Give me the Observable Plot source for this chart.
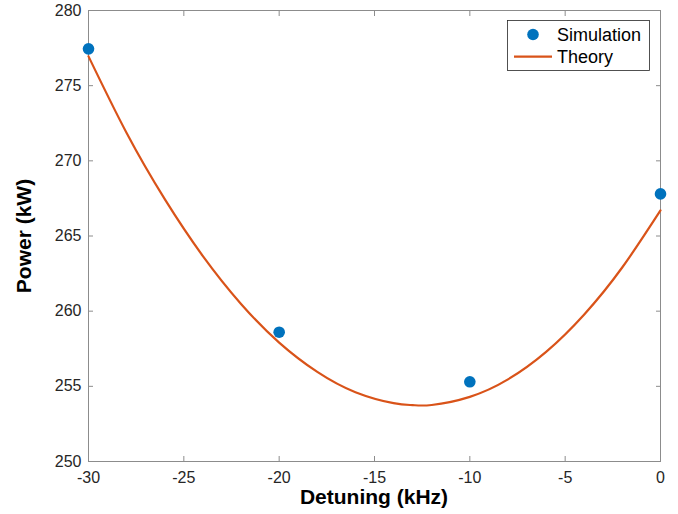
<!DOCTYPE html>
<html>
<head>
<meta charset="utf-8">
<script src="https://cdn.jsdelivr.net/npm/d3@7"></script>
<script src="https://cdn.jsdelivr.net/npm/@observablehq/plot@0.6"></script>
<style>
  body { margin: 0; background: #fff; }
  #chart svg { display: block; }
</style>
</head>
<body>
<div id="chart"></div>
<script>
// Simulation points
const simDetuning = [-30, -20, -10, 0];
const simPower = [277.45, 258.6, 255.3, 267.8];

// Theory curve
const theoryDetuning = [-30, -28, -26, -24, -22, -20, -18, -16, -14, -13, -12, -10, -8, -6, -4, -2, 0];
const theoryPower = [276.95, 271.85, 267.45, 263.66, 260.48, 257.91, 255.96, 254.61, 253.88, 253.75, 253.76, 254.3, 255.46, 257.29, 259.78, 262.92, 266.7];

const xTicks = [-30, -25, -20, -15, -10, -5, 0];
const yTicks = [250, 255, 260, 265, 270, 275, 280];

const sim = simDetuning.map((d, i) => ({x: d, y: simPower[i]}));
const theory = theoryDetuning.map((d, i) => ({x: d, y: theoryPower[i]}));

const axisGray = "#8c8c8c";
const textColor = "#262626";
const fmt = d => String(d);

const chart = Plot.plot({
  width: 678,
  height: 514,
  marginLeft: 88,
  marginRight: 18,
  marginTop: 10,
  marginBottom: 53,
  style: {fontFamily: "'Liberation Sans', Arial, Helvetica, sans-serif", fontSize: "16px", color: textColor, background: "#fff"},
  x: {domain: [-30, 0]},
  y: {domain: [250, 280]},
  marks: [
    Plot.axisX(xTicks, {anchor: "bottom", tickSize: -5, tickPadding: 15, tickFormat: fmt, label: null, stroke: axisGray, fill: textColor}),
    Plot.axisX(xTicks, {anchor: "top", tickSize: -5, tickFormat: () => "", label: null, stroke: axisGray}),
    Plot.axisY(yTicks, {anchor: "left", tickSize: -5, tickPadding: 12, tickFormat: fmt, label: null, stroke: axisGray, fill: textColor}),
    Plot.axisY(yTicks, {anchor: "right", tickSize: -5, tickFormat: () => "", label: null, stroke: axisGray}),
    Plot.frame({stroke: axisGray}),
    Plot.line(theory, {x: "x", y: "y", stroke: "#D95319", strokeWidth: 2.2, curve: "natural"}),
    Plot.dot(sim, {x: "x", y: "y", r: 5.8, fill: "#0072BD", stroke: "none"})
  ]
});

const svg = d3.select(chart);
// axis titles
svg.append("text")
  .attr("x", 374).attr("y", 504)
  .attr("text-anchor", "middle")
  .attr("font-weight", "bold").attr("font-size", 21)
  .attr("fill", "#000")
  .text("Detuning (kHz)");
svg.append("text")
  .attr("transform", "translate(31,236) rotate(-90)")
  .attr("text-anchor", "middle")
  .attr("font-weight", "bold").attr("font-size", 21)
  .attr("fill", "#000")
  .text("Power (kW)");

// legend
const lg = svg.append("g").attr("font-size", 18).attr("fill", "#000").attr("text-anchor", "start");
lg.append("rect").attr("x", 507.5).attr("y", 20.5).attr("width", 142).attr("height", 50)
  .attr("fill", "#fff").attr("stroke", "#262626").attr("stroke-width", 0.8);
lg.append("circle").attr("cx", 533).attr("cy", 34.5).attr("r", 5.8).attr("fill", "#0072BD");
lg.append("text").attr("x", 557).attr("y", 34.5).attr("dy", "0.35em").text("Simulation");
lg.append("line").attr("x1", 514).attr("x2", 552).attr("y1", 56.7).attr("y2", 56.7)
  .attr("stroke", "#D95319").attr("stroke-width", 2.2);
lg.append("text").attr("x", 557).attr("y", 57).attr("dy", "0.35em").text("Theory");

document.getElementById("chart").appendChild(chart);
</script>
</body>
</html>
